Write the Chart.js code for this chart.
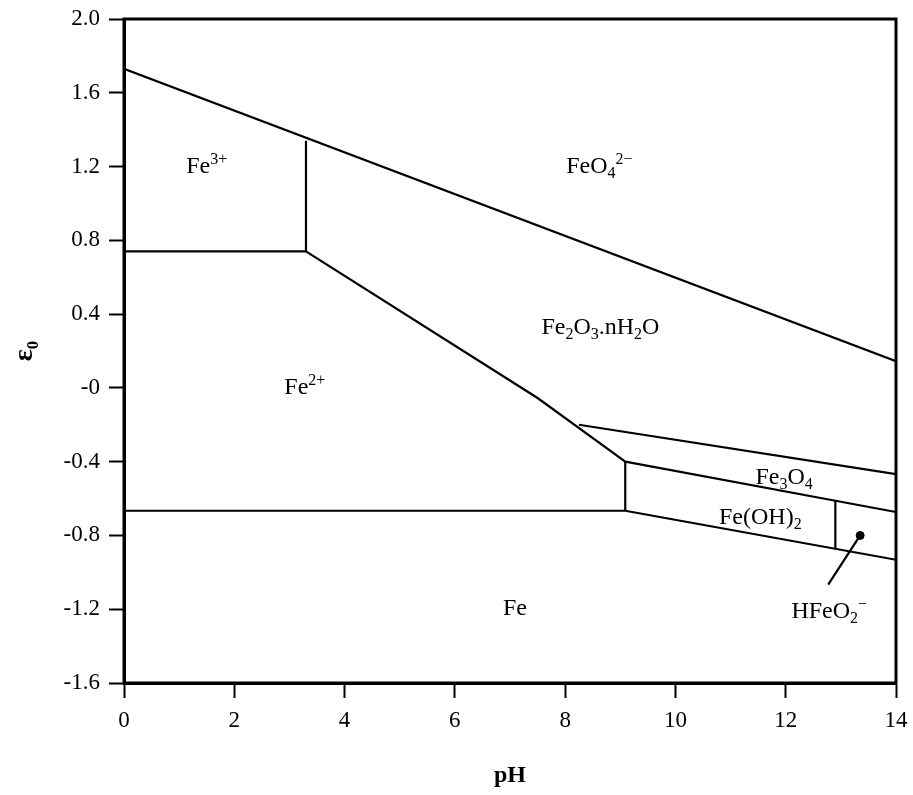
<!DOCTYPE html>
<html>
<head>
<meta charset="utf-8">
<script src="https://cdn.jsdelivr.net/npm/chart.js@4.4.1/dist/chart.umd.min.js"></script>
<style>
    html, body { margin: 0; padding: 0; background: #fff; }
    canvas { display: block; }
</style>
</head>
<body>
<canvas id="pourbaix" width="913" height="795"></canvas>
<script>
// Diagrama de Pourbaix do ferro - fronteiras em pares [pH, E0]

var limiteFeO4 = [[0, 1.73], [14, 0.145]];
var verticalFe3 = [[3.3, 1.34], [3.3, 0.74]];
var horizontalFe3 = [[0, 0.74], [3.3, 0.74]];
var diagonalFe2 = [[3.3, 0.74], [7.5, -0.055], [9.09, -0.40]];
var limiteFe3O4 = [[8.25, -0.20], [14, -0.468]];
var limiteFeOH2 = [[9.09, -0.40], [14, -0.673]];
var verticalFe2 = [[9.09, -0.40], [9.09, -0.666]];
var horizontalFe2 = [[0, -0.666], [9.09, -0.666]];
var limiteFe = [[9.09, -0.666], [14, -0.932]];
var verticalHFeO2 = [[12.9, -0.612], [12.9, -0.872]];
var setaHFeO2 = [[13.35, -0.80], [12.77, -1.067]];
var pontoHFeO2 = [[13.35, -0.80]];

var ticksPH = ['0', '2', '4', '6', '8', '10', '12', '14'];
var ticksE = ['-1.6', '-1.2', '-0.8', '-0.4', '-0', '0.4', '0.8', '1.2', '1.6', '2.0'];

// rotulos das regioes: texto em partes ('' normal, 'sub', 'sup')
var rotulos = [
    { pH: 1.5, E: 1.2, partes: [['Fe', ''], ['3+', 'sup']] },
    { pH: 8.62, E: 1.197, partes: [['FeO', ''], ['4', 'sub'], ['2\u2212', 'sup']] },
    { pH: 8.64, E: 0.328, partes: [['Fe', ''], ['2', 'sub'], ['O', ''], ['3', 'sub'], ['.nH', ''], ['2', 'sub'], ['O', '']] },
    { pH: 3.28, E: 0.0, partes: [['Fe', ''], ['2+', 'sup']] },
    { pH: 11.97, E: -0.486, partes: [['Fe', ''], ['3', 'sub'], ['O', ''], ['4', 'sub']] },
    { pH: 11.54, E: -0.704, partes: [['Fe(OH)', ''], ['2', 'sub']] },
    { pH: 12.79, E: -1.214, partes: [['HFeO', ''], ['2', 'sub'], ['\u2212', 'sup']] },
    { pH: 7.09, E: -1.198, partes: [['Fe', '']] }
];

var fonteNormal = "24px 'Liberation Serif'";
var fontePequena = "16px 'Liberation Serif'";

function pontos(pares) {
    return pares.map(function (p) { return { x: p[0], y: p[1] }; });
}

function linha(pares) {
    return {
        data: pontos(pares),
        showLine: true,
        borderColor: '#000',
        borderWidth: 2.2,
        pointRadius: 0,
        fill: false
    };
}

var moldura = {
    id: 'moldura',
    afterDraw: function (chart) {
        var ctx = chart.ctx;
        var a = chart.chartArea;
        ctx.save();
        ctx.strokeStyle = '#000';
        ctx.lineWidth = 3;
        ctx.strokeRect(a.left, a.top, a.right - a.left, a.bottom - a.top);
        ctx.restore();
    }
};

var textos = {
    id: 'textos',
    afterDatasetsDraw: function (chart) {
        var ctx = chart.ctx;
        var sx = chart.scales.x;
        var sy = chart.scales.y;
        ctx.save();
        ctx.fillStyle = '#000';
        ctx.textBaseline = 'middle';
        ctx.textAlign = 'left';
        for (var i = 0; i < rotulos.length; i++) {
            var r = rotulos[i];
            var total = 0;
            r.partes.forEach(function (p) {
                ctx.font = p[1] ? fontePequena : fonteNormal;
                total += ctx.measureText(p[0]).width;
            });
            var cx = sx.getPixelForValue(r.pH) - total / 2;
            var cy = sy.getPixelForValue(r.E);
            r.partes.forEach(function (p) {
                ctx.font = p[1] ? fontePequena : fonteNormal;
                var dy = 0;
                if (p[1] == 'sub') dy = 7;
                if (p[1] == 'sup') dy = -7;
                ctx.fillText(p[0], cx, cy + dy);
                cx += ctx.measureText(p[0]).width;
            });
        }
        ctx.restore();
    }
};

var ctx = document.getElementById('pourbaix').getContext('2d');

var grafico = new Chart(ctx, {
    type: 'scatter',
    data: {
        datasets: [
            linha(limiteFeO4),
            linha(verticalFe3),
            linha(horizontalFe3),
            linha(diagonalFe2),
            linha(limiteFe3O4),
            linha(limiteFeOH2),
            linha(verticalFe2),
            linha(horizontalFe2),
            linha(limiteFe),
            linha(verticalHFeO2),
            linha(setaHFeO2),
            {
                data: pontos(pontoHFeO2),
                pointRadius: 4,
                pointBackgroundColor: '#000',
                pointBorderColor: '#000',
                showLine: false
            }
        ]
    },
    options: {
        responsive: false,
        animation: false,
        devicePixelRatio: 1,
        layout: { padding: { top: 19, right: 17, left: 0, bottom: 0 } },
        plugins: {
            legend: { display: false },
            tooltip: { enabled: false }
        },
        scales: {
            x: {
                type: 'linear',
                min: 0,
                max: 14,
                afterFit: function (s) {
                    s.height = 112;
                    s.paddingLeft = 0;
                    s.paddingRight = 0;
                },
                ticks: {
                    stepSize: 2,
                    padding: 9,
                    color: '#000',
                    font: { family: "'Liberation Serif'", size: 23 },
                    callback: function (v, i) { return ticksPH[i]; }
                },
                grid: { drawOnChartArea: false, tickLength: 15, tickWidth: 2, tickColor: '#000' },
                border: { display: true, color: '#000', width: 3 },
                title: {
                    display: true,
                    text: 'pH',
                    color: '#000',
                    font: { family: "'Liberation Serif'", size: 24, weight: 'bold' },
                    padding: { top: 0, bottom: 5 }
                }
            },
            y: {
                type: 'linear',
                min: -1.6,
                max: 2.0,
                afterFit: function (s) {
                    s.width = 124;
                    s.paddingTop = 0;
                    s.paddingBottom = 0;
                },
                ticks: {
                    stepSize: 0.4,
                    padding: 9,
                    color: '#000',
                    font: { family: "'Liberation Serif'", size: 23 },
                    callback: function (v) {
                        for (var i = 0; i < ticksE.length; i++) {
                            if (Math.abs(parseFloat(ticksE[i]) - v) < 1e-6) return ticksE[i];
                        }
                        return '';
                    }
                },
                grid: { drawOnChartArea: false, tickLength: 15, tickWidth: 2, tickColor: '#000' },
                border: { display: true, color: '#000', width: 3 },
                title: {
                    display: true,
                    text: '\u03b5\u2080',
                    color: '#000',
                    font: { family: "'Liberation Serif'", size: 28, weight: 'bold' },
                    padding: { top: 8, bottom: 0 }
                }
            }
        }
    },
    plugins: [moldura, textos]
});
</script>
</body>
</html>
